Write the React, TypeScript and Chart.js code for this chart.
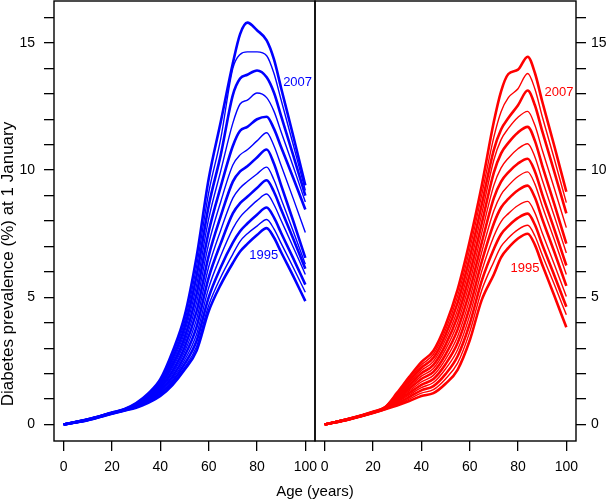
import React, { useEffect, useRef } from "react";
import { Chart, registerables } from "chart.js";

Chart.register(...registerables);

const FONT = "'Liberation Sans', Arial, Helvetica, sans-serif";

// Age grid (years) shared by every curve
const ages = [0, 10, 20, 25, 30, 35, 40, 45, 50, 55, 60, 65, 70, 73, 76, 80, 84, 87, 90, 95, 100];
const years = [1995, 1996, 1997, 1998, 1999, 2000, 2001, 2002, 2003, 2004, 2005, 2006, 2007];

// Men (blue panel), prevalence % by age
const m1995 = [0, 0.17, 0.42, 0.54, 0.66, 0.85, 1.12, 1.55, 2.15, 2.9, 4.45, 5.5, 6.35, 6.8, 7.1, 7.45, 7.72, 7.35, 6.77, 5.83, 4.85];
const m1996 = [0, 0.17, 0.42, 0.55, 0.68, 0.88, 1.18, 1.61, 2.24, 3.07, 4.68, 5.79, 6.7, 7.2, 7.5, 7.8, 8.06, 7.69, 7.12, 6.17, 5.2];
const m1997 = [0, 0.18, 0.43, 0.55, 0.69, 0.91, 1.23, 1.69, 2.37, 3.29, 5.0, 6.18, 7.15, 7.6, 7.9, 8.25, 8.53, 8.14, 7.53, 6.53, 5.5];
const m1998 = [0, 0.18, 0.43, 0.56, 0.71, 0.94, 1.29, 1.78, 2.52, 3.55, 5.37, 6.63, 7.7, 8.15, 8.45, 8.8, 9.06, 8.65, 8.02, 6.97, 5.9];
const m1999 = [0, 0.18, 0.44, 0.56, 0.72, 0.97, 1.34, 1.88, 2.68, 3.84, 5.77, 7.12, 8.3, 8.7, 8.95, 9.3, 9.6, 9.15, 8.45, 7.3, 6.12];
const m2000 = [0, 0.18, 0.44, 0.57, 0.74, 1.0, 1.4, 1.99, 2.85, 4.14, 6.19, 7.64, 8.9, 9.3, 9.55, 9.85, 10.12, 9.62, 8.86, 7.6, 6.3];
const m2001 = [0, 0.19, 0.45, 0.57, 0.75, 1.04, 1.45, 2.1, 3.03, 4.45, 6.63, 8.19, 9.55, 9.95, 10.15, 10.5, 10.81, 10.26, 9.4, 8.0, 6.55];
const m2002 = [0, 0.19, 0.45, 0.58, 0.77, 1.07, 1.51, 2.22, 3.22, 4.79, 7.1, 8.76, 10.2, 10.6, 10.8, 11.15, 11.47, 10.96, 10.18, 8.88, 7.55];
const m2003 = [0, 0.19, 0.45, 0.58, 0.78, 1.1, 1.56, 2.34, 3.41, 5.13, 7.58, 9.35, 10.95, 11.55, 11.7, 12.0, 12.1, 11.63, 10.9, 9.69, 8.45];
const m2004 = [0, 0.19, 0.46, 0.59, 0.8, 1.13, 1.62, 2.46, 3.62, 5.48, 8.08, 9.97, 11.85, 12.6, 12.75, 13.03, 12.85, 12.32, 11.5, 10.14, 8.75];
const m2005 = [0, 0.2, 0.46, 0.59, 0.81, 1.16, 1.67, 2.59, 3.82, 5.85, 8.59, 10.6, 12.95, 13.6, 13.75, 13.92, 13.65, 13.05, 12.12, 10.58, 9.0];
const m2006 = [0, 0.2, 0.47, 0.6, 0.83, 1.19, 1.73, 2.72, 4.03, 6.22, 9.11, 11.24, 14.0, 14.55, 14.65, 14.65, 14.5, 13.81, 12.75, 11.0, 9.2];
const m2007 = [0, 0.2, 0.47, 0.6, 0.84, 1.22, 1.78, 2.85, 4.25, 6.6, 9.65, 11.9, 14.2, 15.35, 15.8, 15.5, 15.1, 14.36, 13.22, 11.34, 9.4];

// Women (red panel), prevalence % by age
const w1995 = [0, 0.2, 0.45, 0.6, 0.75, 0.92, 1.12, 1.23, 1.6, 2.15, 3.3, 4.9, 5.9, 6.57, 6.94, 7.31, 7.5, 7.06, 6.29, 5.07, 3.82];
const w1996 = [0, 0.2, 0.45, 0.61, 0.79, 1.0, 1.23, 1.37, 1.79, 2.41, 3.63, 5.28, 6.4, 7.0, 7.33, 7.66, 7.83, 7.41, 6.67, 5.51, 4.31];
const w1997 = [0, 0.2, 0.46, 0.61, 0.83, 1.08, 1.34, 1.51, 1.98, 2.68, 3.95, 5.65, 6.9, 7.48, 7.8, 8.12, 8.29, 7.85, 7.08, 5.87, 4.63];
const w1998 = [0, 0.21, 0.46, 0.62, 0.88, 1.16, 1.45, 1.65, 2.18, 2.94, 4.28, 6.03, 7.4, 7.98, 8.29, 8.61, 8.77, 8.32, 7.54, 6.3, 5.03];
const w1999 = [0, 0.21, 0.47, 0.63, 0.92, 1.24, 1.56, 1.79, 2.37, 3.2, 4.6, 6.4, 7.9, 8.53, 8.87, 9.21, 9.39, 8.92, 8.09, 6.79, 5.45];
const w2000 = [0, 0.21, 0.47, 0.63, 0.96, 1.32, 1.67, 1.93, 2.56, 3.46, 4.93, 6.78, 8.4, 9.04, 9.39, 9.75, 9.93, 9.45, 8.6, 7.27, 5.9];
const w2001 = [0, 0.21, 0.47, 0.64, 1.0, 1.4, 1.79, 2.07, 2.75, 3.73, 5.25, 7.15, 8.9, 9.55, 9.91, 10.26, 10.45, 9.95, 9.06, 7.68, 6.25];
const w2002 = [0, 0.21, 0.48, 0.65, 1.04, 1.47, 1.9, 2.2, 2.94, 3.99, 5.58, 7.53, 9.4, 10.09, 10.47, 10.84, 11.04, 10.52, 9.62, 8.2, 6.74];
const w2003 = [0, 0.21, 0.48, 0.65, 1.08, 1.55, 2.01, 2.34, 3.13, 4.25, 5.9, 7.9, 9.9, 10.66, 11.07, 11.48, 11.7, 11.15, 10.19, 8.67, 7.11];
const w2004 = [0, 0.21, 0.49, 0.66, 1.13, 1.63, 2.12, 2.48, 3.33, 4.51, 6.23, 8.28, 10.4, 11.2, 11.64, 12.08, 12.31, 11.76, 10.8, 9.29, 7.74];
const w2005 = [0, 0.22, 0.49, 0.67, 1.17, 1.71, 2.23, 2.62, 3.52, 4.78, 6.55, 8.65, 10.8, 11.6, 12.05, 12.55, 13.13, 12.55, 11.54, 9.94, 8.3];
const w2006 = [0, 0.22, 0.5, 0.67, 1.21, 1.79, 2.34, 2.76, 3.71, 5.04, 6.88, 9.03, 11.3, 12.3, 12.85, 13.2, 13.8, 13.19, 12.12, 10.45, 8.72];
const w2007 = [0, 0.22, 0.5, 0.68, 1.25, 1.87, 2.45, 2.9, 3.9, 5.3, 7.2, 9.4, 11.9, 13.1, 13.78, 13.95, 14.46, 13.82, 12.71, 10.96, 9.15];

const menSeries = [m1995, m1996, m1997, m1998, m1999, m2000, m2001, m2002, m2003, m2004, m2005, m2006, m2007];
const womenSeries = [w1995, w1996, w1997, w1998, w1999, w2000, w2001, w2002, w2003, w2004, w2005, w2006, w2007];

// Axis ticks
const xTickValues = [0, 20, 40, 60, 80, 100];
const yTickValues = [0, 1, 2, 3, 4, 5, 6, 7, 8, 9, 10, 11, 12, 13, 14, 15, 16];
const yLabelledValues = [0, 5, 10, 15];

// In-plot year labels (age, prevalence)
const labelTexts = ["2007", "1995"];
const menLabelAges = [96.8, 82.8];
const menLabelValues = [13.46, 6.64];
const womenLabelAges = [97.0, 82.9];
const womenLabelValues = [13.07, 6.12];

const xTitle = "Age (years)";
const yTitle = "Diabetes prevalence (%) at 1 January";

const BLUE = "#0000ff";
const RED = "#ff0000";

const framePlugin = {
  id: "panelFrames",
  afterDatasetsDraw(chart: any) {
    const { ctx, chartArea } = chart;
    ctx.save();
    ctx.strokeStyle = "#000";
    ctx.lineWidth = 1.4;
    for (const id of ["xL", "xR"]) {
      const s = chart.scales[id];
      ctx.strokeRect(s.left, chartArea.top, s.right - s.left, chartArea.bottom - chartArea.top);
    }
    ctx.restore();
  },
};

const yearLabelPlugin = {
  id: "yearLabels",
  afterDatasetsDraw(chart: any) {
    const { ctx } = chart;
    const y = chart.scales.y;
    ctx.save();
    ctx.font = `13px ${FONT}`;
    ctx.textAlign = "center";
    ctx.textBaseline = "middle";
    ctx.fillStyle = BLUE;
    labelTexts.forEach((t, i) => {
      ctx.fillText(t, chart.scales.xL.getPixelForValue(menLabelAges[i]), y.getPixelForValue(menLabelValues[i]));
    });
    ctx.fillStyle = RED;
    labelTexts.forEach((t, i) => {
      ctx.fillText(t, chart.scales.xR.getPixelForValue(womenLabelAges[i]), y.getPixelForValue(womenLabelValues[i]));
    });
    ctx.restore();
  },
};

const yTitlePlugin = {
  id: "yTitle",
  afterDraw(chart: any) {
    const { ctx } = chart;
    ctx.save();
    ctx.translate(8.5, 264);
    ctx.rotate(-Math.PI / 2);
    ctx.font = `17px ${FONT}`;
    ctx.fillStyle = "#000";
    ctx.textAlign = "center";
    ctx.textBaseline = "middle";
    ctx.fillText(yTitle, 0, 0);
    ctx.restore();
  },
};

export default function App() {
  const ref = useRef<HTMLCanvasElement | null>(null);

  useEffect(() => {
    const canvas = ref.current;
    if (!canvas) return;

    const makeSets = (series: number[][], color: string, xAxisID: string, sex: string) =>
      series.map((vals, k) => ({
        label: `${sex} ${years[k]}`,
        data: ages.map((a, i) => ({ x: a, y: vals[i] })),
        xAxisID,
        yAxisID: "y",
        borderColor: color,
        backgroundColor: color,
        borderWidth: k % 2 === 0 ? 2.6 : 1.4,
        pointRadius: 0,
        pointHoverRadius: 0,
        cubicInterpolationMode: "monotone" as const,
        fill: false,
      }));

    const tickFont = { family: FONT, size: 14 };
    const grid = {
      drawOnChartArea: false,
      drawTicks: true,
      tickLength: 10,
      color: "#000",
      lineWidth: 1.3,
    };

    const xScale = (stackWeight: number) => ({
      type: "linear" as const,
      position: "bottom" as const,
      stack: "panels",
      stackWeight,
      min: -4,
      max: 104,
      afterBuildTicks: (s: any) => {
        s.ticks = xTickValues.map((v) => ({ value: v }));
      },
      afterFit: (s: any) => {
        s.height = 42;
        s.paddingLeft = 0;
        s.paddingRight = 0;
      },
      grid,
      border: { display: false },
      ticks: {
        color: "#000",
        font: tickFont,
        padding: 8,
        maxRotation: 0,
        autoSkip: false,
        callback: (v: any) => String(v),
      },
    });

    const yScale = (position: "left" | "right", width: number, padding: number) => ({
      type: "linear" as const,
      position,
      min: -0.65,
      max: 16.65,
      afterBuildTicks: (s: any) => {
        s.ticks = yTickValues.map((v) => ({ value: v }));
      },
      afterFit: (s: any) => {
        s.width = width;
        s.paddingTop = 0;
        s.paddingBottom = 0;
      },
      grid,
      border: { display: false },
      ticks: {
        color: "#000",
        font: tickFont,
        padding,
        autoSkip: false,
        callback: (v: any) => (yLabelledValues.includes(Number(v)) ? String(v) : ""),
      },
    });

    const chart = new Chart(canvas, {
      type: "line",
      data: {
        datasets: [
          ...makeSets(menSeries, BLUE, "xL", "Men"),
          ...makeSets(womenSeries, RED, "xR", "Women"),
        ],
      },
      options: {
        responsive: false,
        animation: false,
        events: [],
        layout: { padding: { top: 1, left: 0, right: 0, bottom: 0 } },
        plugins: {
          legend: { display: false },
          tooltip: { enabled: false },
          title: {
            display: true,
            text: xTitle,
            position: "bottom",
            fullSize: false,
            color: "#000",
            font: { family: FONT, size: 15, weight: "normal", lineHeight: 1.2 },
            padding: { top: 0, bottom: 0 },
          },
        },
        scales: {
          xL: xScale(1),
          xR: xScale(1),
          y: yScale("left", 54, 9),
          y2: yScale("right", 30, 5),
        },
      } as any,
      plugins: [framePlugin, yearLabelPlugin, yTitlePlugin],
    });

    return () => chart.destroy();
  }, []);

  return (
    <div style={{ position: "fixed", left: 0, top: 0, width: 606, height: 501, background: "#fff" }}>
      <canvas ref={ref} width={606} height={501} style={{ display: "block", width: 606, height: 501 }} />
    </div>
  );
}
